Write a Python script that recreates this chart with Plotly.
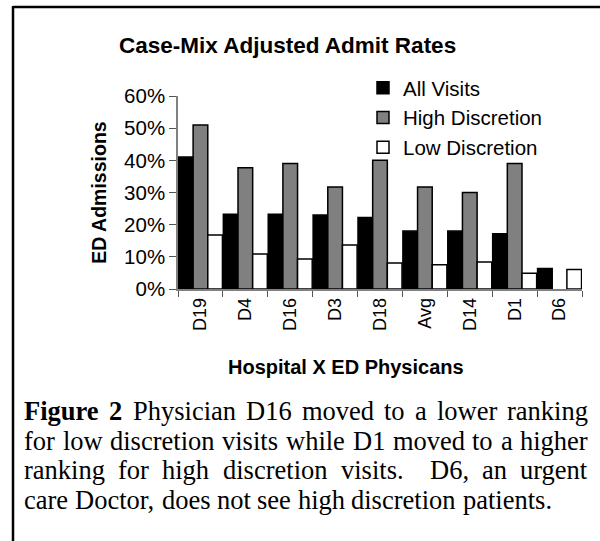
import plotly.graph_objects as go

# ---------------- data ----------------
physicians = ["D19", "D4", "D16", "D3", "D18", "Avg", "D14", "D1", "D6"]
all_visits = [0.41, 0.232, 0.232, 0.23, 0.222, 0.18, 0.18, 0.172, 0.064]
high_discretion = [0.51, 0.377, 0.39, 0.317, 0.40, 0.317, 0.30, 0.39, None]
low_discretion = [0.168, 0.109, 0.093, 0.137, 0.081, 0.075, 0.084, 0.049, 0.061]
y_ticks = [0, 0.1, 0.2, 0.3, 0.4, 0.5, 0.6]

title_text = "Case-Mix Adjusted Admit Rates"
x_title = "Hospital X ED Physicans"
y_title = "ED Admissions"

caption_lines = [
    [("Figure", True), ("2", True), ("Physician", False), ("D16", False), ("moved", False),
     ("to", False), ("a", False), ("lower", False), ("ranking", False)],
    [(w, False) for w in "for low discretion visits while D1 moved to a higher".split(" ")],
    [(w, False) for w in "ranking for high discretion visits.  D6, an urgent".split(" ")],
    [(w, False) for w in "care Doctor, does not see high discretion patients.".split(" ")],
]

W, H = 600, 541
SANS = "Liberation Sans, Arial, sans-serif"
SERIF = "Liberation Serif, Times New Roman, serif"

fig = go.Figure()
fig.add_trace(go.Bar(name="All Visits", x=physicians, y=all_visits, legendgroup="a",
                     marker=dict(color="#000000", line=dict(color="#000000", width=1.5))))
fig.add_trace(go.Bar(name="High Discretion", x=physicians, y=high_discretion, legendgroup="b",
                     marker=dict(color="#808080", line=dict(color="#000000", width=1.5))))
fig.add_trace(go.Bar(name="Low Discretion", x=physicians, y=low_discretion, legendgroup="c",
                     marker=dict(color="#ffffff", line=dict(color="#000000", width=1.5))))

x0, x1 = 178 / W, 582 / W
y_bot, y_top = 1 - 289 / H, 1 - 96 / H

fig.update_layout(
    width=W, height=H,
    margin=dict(l=0, r=0, t=0, b=0, autoexpand=False),
    paper_bgcolor="white", plot_bgcolor="white",
    barmode="group", bargap=0.02, bargroupgap=0,
    showlegend=True,
    legend=dict(x=363 / W, y=1 - 68 / H, xanchor="left", yanchor="top",
                bgcolor="rgba(0,0,0,0)", font=dict(family=SANS, size=20.5, color="black"),
                traceorder="grouped", tracegroupgap=0, borderwidth=0),
    xaxis=dict(domain=[x0, x1], type="category", tickangle=-90, automargin=False,
               ticks="outside", tickson="boundaries", ticklen=6, tickcolor="#555555",
               showline=True, linecolor="#808080", linewidth=1.5,
               tickfont=dict(family=SANS, size=18, color="black"),
               showgrid=False, zeroline=False),
    yaxis=dict(domain=[y_bot, y_top], range=[0, 0.6], tickvals=y_ticks, tickformat=".0%",
               ticks="outside", ticklen=7, tickcolor="#555555", automargin=False,
               showline=True, linecolor="#808080", linewidth=1.5,
               tickfont=dict(family=SANS, size=20.5, color="black"),
               showgrid=False, zeroline=False,
               title=dict(text="<b>" + y_title + "</b>", standoff=12,
                          font=dict(family=SANS, size=19.5, color="black"))),
)

annotations = []
annotations.append(dict(text="<b>" + title_text + "</b>", x=287 / W, y=1 - 46 / H,
                        xref="paper", yref="paper", xanchor="center", yanchor="middle",
                        showarrow=False, font=dict(family=SANS, size=22.5, color="black")))
annotations.append(dict(text="<b>" + x_title + "</b>", x=346 / W, y=1 - 367 / H,
                        xref="paper", yref="paper", xanchor="center", yanchor="middle",
                        showarrow=False, font=dict(family=SANS, size=20, color="black")))

# Times metrics (per 1000 em) for justified caption layout
reg = {' ': 250, ',': 250, '.': 250, '1': 500, '2': 500, '6': 500, 'D': 722, 'P': 556, 'F': 556,
       'a': 444, 'b': 500, 'c': 444, 'd': 500, 'e': 444, 'f': 333, 'g': 500, 'h': 500, 'i': 278,
       'j': 278, 'k': 500, 'l': 278, 'm': 778, 'n': 500, 'o': 500, 'p': 500, 'q': 500, 'r': 333,
       's': 389, 't': 278, 'u': 500, 'v': 500, 'w': 722, 'x': 500, 'y': 500, 'z': 444}
bold = dict(reg)
bold.update({'F': 611, 'u': 556, 'r': 444})

FS = 26.5
LEFT, RIGHT = 23, 587
line_centers = [411, 440.7, 470.4, 500.1]


def wwidth(word, b):
    t = bold if b else reg
    return sum(t.get(c, 500) for c in word) * FS / 1000.0


for li, words in enumerate(caption_lines):
    justified = li < len(caption_lines) - 1
    n_gaps = len(words) - 1
    total = sum(wwidth(w, b) for w, b in words if w)
    gap = (RIGHT - LEFT - total) / n_gaps if justified else 250 * FS / 1000.0
    x = LEFT
    for w, b in words:
        if w:
            annotations.append(dict(text=("<b>" + w + "</b>") if b else w,
                                    x=x / W, y=1 - line_centers[li] / H,
                                    xref="paper", yref="paper", xanchor="left", yanchor="middle",
                                    showarrow=False, borderpad=0,
                                    font=dict(family=SERIF, size=FS, color="black")))
            x += wwidth(w, b)
        x += gap

fig.update_layout(annotations=annotations)

# page frame (left and top edges)
fig.add_shape(type="line", xref="paper", yref="paper", x0=13 / W, x1=13 / W, y0=0, y1=1 - 6 / H,
              line=dict(color="black", width=2.5))
fig.add_shape(type="line", xref="paper", yref="paper", x0=13 / W, x1=1, y0=1 - 7 / H, y1=1 - 7 / H,
              line=dict(color="black", width=2.5))

fig.write_html("out.html", config={"displayModeBar": False},
               post_script="document.body.style.margin='0';document.body.style.overflow='hidden';"
                           "document.documentElement.style.overflow='hidden';")
